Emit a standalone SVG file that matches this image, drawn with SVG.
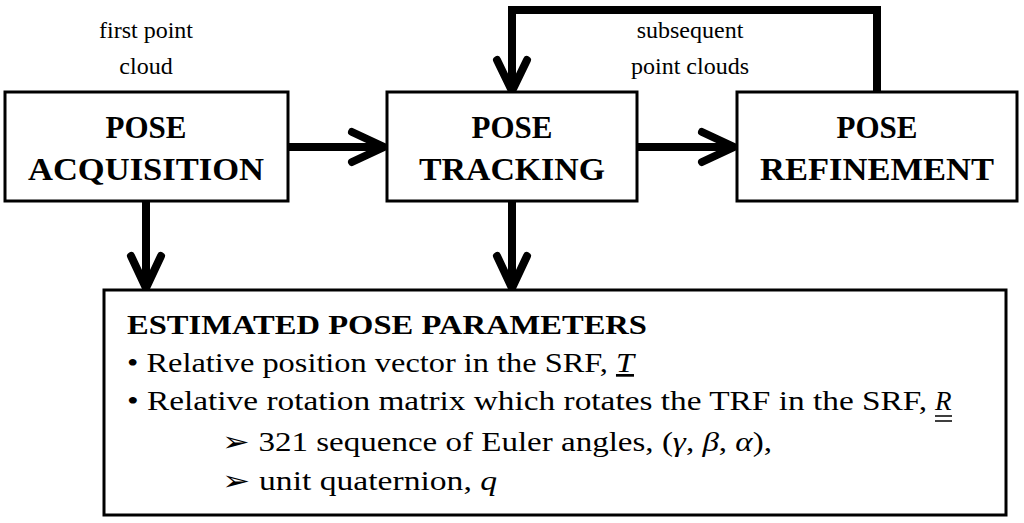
<svg xmlns="http://www.w3.org/2000/svg" width="1024" height="523" viewBox="0 0 1024 523">
<style>
text{font-family:'Liberation Serif','Times New Roman','DejaVu Serif',serif}
.box{fill:#fff;stroke:#000;stroke-width:3}
.t{font-weight:bold;font-size:31px;text-anchor:middle}
.l{font-size:24px;text-anchor:middle}
.b{font-size:27px}
.c{fill:none;stroke:#000;stroke-width:8}
.h{fill:none;stroke:#000;stroke-width:8;stroke-linecap:round;stroke-linejoin:miter}
</style>
<rect width="1024" height="523" fill="#fff"/>
<g id="connectors">
<path class="c" d="M288 147H380"/><path class="h" d="M352 132L384 147L352 162"/>
<path class="c" d="M637 147H730"/><path class="h" d="M702 132L734 147L702 162"/>
<path class="c" d="M146 201V282"/><path class="h" d="M131 256L146 288L161 256"/>
<path class="c" d="M512 201V282"/><path class="h" d="M497 256L512 288L527 256"/>
<path class="c" d="M877 92V10H512V86"/><path class="h" d="M497 60L512 91L527 60"/>
</g>
<g id="label1"><text class="l" x="146" y="38">first point</text><text class="l" x="146" y="74">cloud</text></g>
<g id="label2"><text class="l" x="690" y="38">subsequent</text><text class="l" x="690" y="74">point clouds</text></g>
<g id="acq"><rect class="box" x="5" y="92" width="283" height="109"/><text class="t" x="146" y="138">POSE</text><text class="t" x="146" y="180" textLength="236" lengthAdjust="spacingAndGlyphs">ACQUISITION</text></g>
<g id="track"><rect class="box" x="387" y="92" width="250" height="109"/><text class="t" x="512" y="138">POSE</text><text class="t" x="512" y="180" textLength="186" lengthAdjust="spacingAndGlyphs">TRACKING</text></g>
<g id="refine"><rect class="box" x="737" y="92" width="280" height="109"/><text class="t" x="877" y="138">POSE</text><text class="t" x="877" y="180" textLength="234" lengthAdjust="spacingAndGlyphs">REFINEMENT</text></g>
<g id="params"><rect class="box" x="104" y="290" width="902" height="225"/>
<text class="b" x="127" y="334" font-weight="bold" textLength="520" lengthAdjust="spacingAndGlyphs">ESTIMATED POSE PARAMETERS</text>
<text class="b" x="127" y="372" textLength="507" lengthAdjust="spacingAndGlyphs">• Relative position vector in the SRF, <tspan font-style="italic" text-decoration="underline">T</tspan></text>
<text class="b" x="127" y="410" textLength="800" lengthAdjust="spacingAndGlyphs">• Relative rotation matrix which rotates the TRF in the SRF,</text>
<text class="b" x="935" y="410" font-style="italic">R</text>
<path d="M935 416h17M935 421h17" stroke="#000" stroke-width="1.5"/>
<text class="b" x="222" y="451" textLength="550" lengthAdjust="spacingAndGlyphs">➢ 321 sequence of Euler angles, (<tspan font-style="italic">γ</tspan>, <tspan font-style="italic">β</tspan>, <tspan font-style="italic">α</tspan>),</text>
<text class="b" x="222" y="490" textLength="275" lengthAdjust="spacingAndGlyphs">➢ unit quaternion, <tspan font-style="italic">q</tspan></text>
</g>
</svg>
